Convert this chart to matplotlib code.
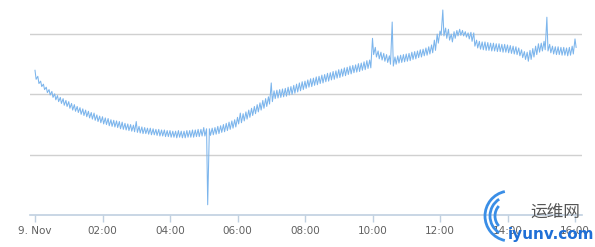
import numpy as np
import matplotlib
matplotlib.use("Agg")
import matplotlib.pyplot as plt
from matplotlib.patches import Arc

# 5-minute samples from 00:00 to 16:00 (one row = one hour)
lows = [
    2.25, 2.18, 2.13, 2.08, 2.03, 1.99, 1.95, 1.91, 1.88, 1.85, 1.82, 1.80,
    1.77, 1.74, 1.72, 1.70, 1.67, 1.65, 1.63, 1.61, 1.59, 1.57, 1.55, 1.53,
    1.51, 1.50, 1.48, 1.47, 1.46, 1.45, 1.43, 1.42, 1.41, 1.40, 1.39, 1.38,
    1.37, 1.36, 1.35, 1.35, 1.34, 1.33, 1.33, 1.32, 1.31, 1.31, 1.30, 1.30,
    1.29, 1.29, 1.28, 1.29, 1.28, 1.28, 1.29, 1.29, 1.29, 1.30, 1.30, 1.31,
    1.31, 0.17, 1.32, 1.33, 1.34, 1.35, 1.37, 1.38, 1.40, 1.42, 1.44, 1.46,
    1.51, 1.53, 1.56, 1.59, 1.62, 1.65, 1.68, 1.71, 1.74, 1.77, 1.80, 1.84,
    1.88, 1.93, 1.94, 1.95, 1.96, 1.97, 1.99, 2.00, 2.02, 2.04, 2.06, 2.08,
    2.10, 2.12, 2.13, 2.15, 2.16, 2.18, 2.19, 2.21, 2.22, 2.24, 2.25, 2.27,
    2.28, 2.30, 2.31, 2.33, 2.34, 2.36, 2.37, 2.38, 2.40, 2.41, 2.43, 2.44,
    2.66, 2.62, 2.59, 2.57, 2.55, 2.53, 2.50, 2.47, 2.50, 2.52, 2.53, 2.54,
    2.55, 2.56, 2.58, 2.59, 2.61, 2.62, 2.64, 2.65, 2.67, 2.69, 2.73, 2.85,
    2.98, 2.97, 2.93, 2.90, 2.87, 2.93, 2.97, 2.98, 2.97, 2.95, 2.92, 2.88,
    2.80, 2.77, 2.75, 2.74, 2.73, 2.73, 2.72, 2.72, 2.71, 2.71, 2.70, 2.70,
    2.69, 2.68, 2.67, 2.66, 2.64, 2.61, 2.58, 2.55, 2.58, 2.62, 2.66, 2.70,
    2.72, 2.74, 2.72, 2.69, 2.67, 2.66, 2.66, 2.65, 2.65, 2.64, 2.65, 2.67,
    2.78,
]
highs = [
    2.40, 2.30, 2.22, 2.17, 2.12, 2.08, 2.05, 2.01, 1.98, 1.95, 1.93, 1.90,
    1.88, 1.85, 1.83, 1.80, 1.78, 1.76, 1.74, 1.72, 1.70, 1.69, 1.66, 1.64,
    1.63, 1.61, 1.60, 1.58, 1.57, 1.56, 1.55, 1.54, 1.52, 1.51, 1.50, 1.49,
    1.55, 1.47, 1.46, 1.45, 1.44, 1.44, 1.43, 1.42, 1.42, 1.41, 1.41, 1.40,
    1.40, 1.39, 1.39, 1.40, 1.39, 1.39, 1.40, 1.40, 1.41, 1.41, 1.42, 1.42,
    1.45, 1.43, 1.43, 1.44, 1.45, 1.47, 1.48, 1.50, 1.52, 1.54, 1.56, 1.58,
    1.62, 1.69, 1.68, 1.71, 1.74, 1.77, 1.80, 1.83, 1.86, 1.90, 1.93, 1.96,
    2.19, 2.06, 2.07, 2.08, 2.09, 2.10, 2.12, 2.13, 2.15, 2.17, 2.19, 2.21,
    2.22, 2.24, 2.26, 2.27, 2.29, 2.30, 2.32, 2.33, 2.35, 2.36, 2.38, 2.39,
    2.41, 2.42, 2.44, 2.45, 2.47, 2.48, 2.49, 2.51, 2.52, 2.54, 2.56, 2.57,
    2.93, 2.78, 2.72, 2.70, 2.68, 2.66, 2.64, 3.20, 2.62, 2.64, 2.65, 2.66,
    2.67, 2.68, 2.70, 2.71, 2.72, 2.74, 2.75, 2.77, 2.79, 2.82, 2.90, 3.00,
    3.05, 3.40, 3.10, 3.08, 3.00, 3.04, 3.06, 3.08, 3.06, 3.04, 3.02, 3.03,
    3.02, 2.90, 2.88, 2.87, 2.87, 2.86, 2.85, 2.85, 2.84, 2.84, 2.83, 2.83,
    2.82, 2.81, 2.80, 2.79, 2.77, 2.74, 2.71, 2.70, 2.73, 2.76, 2.80, 2.84,
    2.85, 2.88, 3.28, 2.83, 2.80, 2.79, 2.79, 2.78, 2.78, 2.77, 2.78, 2.80,
    2.92,
]
tick_hours = [0, 2, 4, 6, 8, 10, 12, 14, 16]
tick_labels = ["9. Nov", "02:00", "04:00", "06:00", "08:00", "10:00", "12:00", "14:00", "16:00"]

# interleave spike/decay points
t = np.arange(len(lows)) / 12.0
xs = np.empty(2 * len(t))
ys = np.empty(2 * len(t))
xs[0::2] = t
xs[1::2] = t + 1 / 30.0
ys[0::2] = highs
ys[1::2] = lows

fig = plt.figure(figsize=(5.95, 2.47), dpi=100)
ax = fig.add_axes([30 / 595, 32 / 247, 552 / 595, 215 / 247])

ax.plot(xs, ys, color="#7cb5ec", lw=0.75)

ax.set_xlim(-5 / 33.75, 547 / 33.75)
ax.set_ylim(0, 215 / 60.3)
ax.set_yticks([1, 2, 3])
ax.yaxis.grid(True, color="#d0d0d0", lw=1)
ax.set_axisbelow(True)
ax.tick_params(axis="y", left=False, labelleft=False)

ax.set_xticks(tick_hours)
ax.set_xticklabels(tick_labels, fontsize=7.5, color="#606060")
ax.tick_params(axis="x", length=5, width=1, color="#c0d0e0", pad=3)

for s in ["top", "right", "left"]:
    ax.spines[s].set_visible(False)
ax.spines["bottom"].set_color("#c0d0e0")
ax.spines["bottom"].set_linewidth(1.2)

# watermark
fig.text(555 / 595, 1 - 213 / 247, "运维网", fontsize=12, color="#555555",
         ha="center", va="center", family=["Noto Sans CJK SC", "DejaVu Sans"])
fig.text(551 / 595, 1 - 234 / 247, "iyunv.com", fontsize=11, color="#1f6fd6",
         ha="center", va="center", fontweight="bold")
for w, a1, a2 in [(50, 95, 265), (40, 105, 255), (30, 115, 245)]:
    fig.add_artist(Arc((510 / 595, 1 - 216 / 247), w / 595, w / 247,
                       theta1=a1, theta2=a2, color="#3a8ee6", lw=2,
                       transform=fig.transFigure))

fig.savefig("out.png", dpi=100)
